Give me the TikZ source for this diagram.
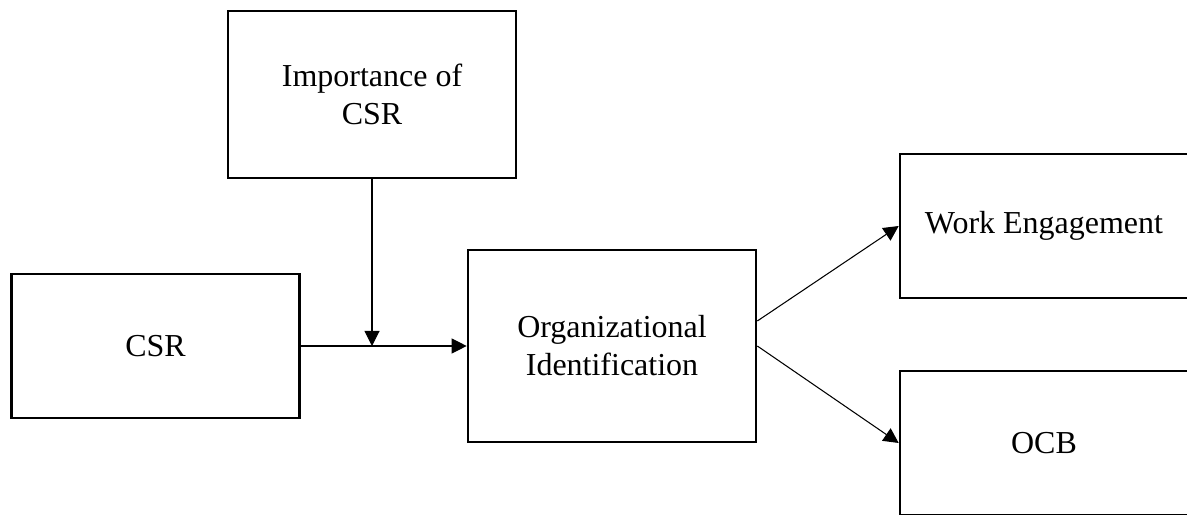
\documentclass[tikz,border=0pt]{standalone}
\usepackage{fontspec}
\setmainfont{Liberation Serif}
\usetikzlibrary{arrows.meta}

\begin{document}
\begin{tikzpicture}[
  varbox/.style={draw, line width=1.5pt, align=center, inner sep=0pt,
    minimum width=5.76cm, font=\fontsize{18.2}{21.6}\selectfont},
  link/.style={line width=0.6pt, -{Triangle[length=0.3cm, width=0.3cm]}}
]
\useasboundingbox (0,0) rectangle (23.74,10.28);
% variables
\node[varbox, minimum height=3.34cm] (imp) at (7.44,8.39) {Importance of\\CSR};
\node[varbox, minimum height=2.88cm] (csr) at (3.11,3.36) {CSR};
\node[varbox, minimum height=3.84cm] (oi) at (12.24,3.36) {Organizational\\Identification};
\node[varbox, minimum height=2.88cm] (we) at (20.88,5.76) {Work Engagement};
\node[varbox, minimum height=2.88cm] (ocb) at (20.88,1.42) {OCB};
% paths
\coordinate (mod) at (imp.south |- csr.east);
\draw[link] (csr.east) -- (oi.west);
\draw[link] (imp.south) -- (mod);
\draw[link] ([yshift=0.5cm]oi.east) -- (we.west);
\draw[link] (oi.east) -- (ocb.west);
\end{tikzpicture}
\end{document}
